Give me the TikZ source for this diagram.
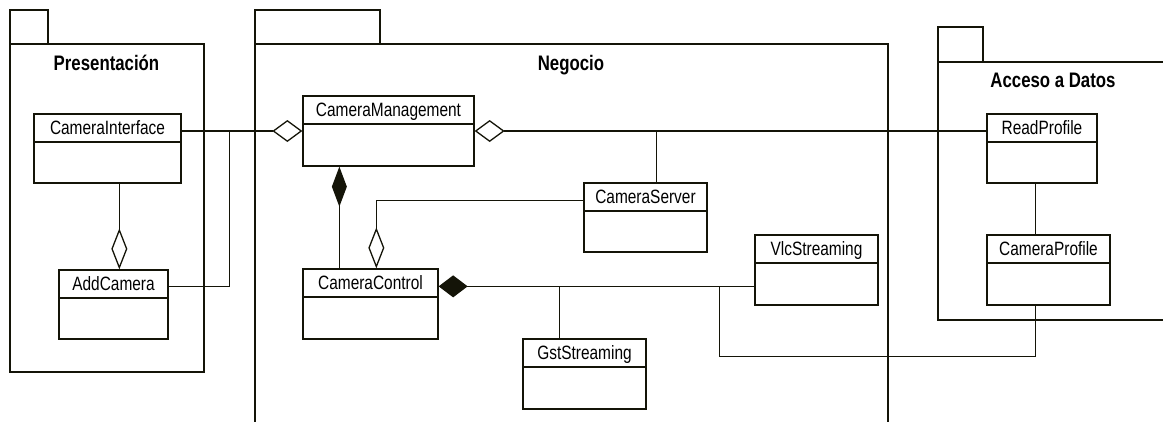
\documentclass[tikz,border=0pt]{standalone}
\usepackage{fontspec}
\setmainfont{Liberation Sans}[FakeStretch=0.8]
\usetikzlibrary{arrows.meta,calc}

\definecolor{ink}{HTML}{141408}

\tikzset{
  pkg/.style={draw=ink, line width=1.4pt},
  pkgtitle/.style={font=\fontsize{21}{24}\selectfont\bfseries, inner sep=0pt,
                   text height=15pt, text depth=0pt},
  classbox/.style={draw=ink, line width=1.3pt, fill=white, inner sep=0pt},
  classhead/.style={draw=ink, line width=1.3pt, inner sep=0pt, anchor=north,
                    minimum height=28pt, font=\fontsize{19.3}{22}\selectfont,
                    text height=13.8pt, text depth=0pt},
  link/.style={draw=ink, line width=1.3pt},
  aggrH/.style={link, -{Diamond[open, length=30pt, width=22pt, line width=1.3pt]}},
  aggrV/.style={link, -{Diamond[open, length=41pt, width=16pt, line width=1.3pt]}},
  compH/.style={link, -{Diamond[length=29pt, width=22pt]}},
  compV/.style={link, -{Diamond[length=40pt, width=15pt]}},
}

% UML class: name, x1, y1, x2, y2, title
\newcommand{\umlclass}[6]{%
  \node[classbox, minimum width={#4-#2}, minimum height={#5-#3}] (#1)
       at ({(#2+#4)/2},{(#3+#5)/2}) {};
  \node[classhead, minimum width={#4-#2}] (#1-head) at (#1.north) {#6};
}

\begin{document}
\begin{tikzpicture}[x=1pt, y=-1pt]
\useasboundingbox (0,0) rectangle (1163,421);
\begin{scope}
\clip (0,0) rectangle (1163,421);

% packages
\draw[pkg] (10,10) rectangle (48,44);
\draw[pkg] (10,44) rectangle (204,372);
\node[pkgtitle] (tPres) at (106.5,62.5) {Presentación};

\draw[pkg] (255,10) rectangle (380,44);
\draw[pkg] (255,44) rectangle (888,440);
\node[pkgtitle] (tNeg) at (571,63) {Negocio};

\draw[pkg] (938,27) rectangle (983,62);
\draw[pkg] (938,62) rectangle (1180,320);
\node[pkgtitle] (tDat) at (1053,79.5) {Acceso a Datos};

% classes
\umlclass{ci}{34}{114}{181}{183}{CameraInterface}
\umlclass{ac}{59}{270}{168}{339}{AddCamera}
\umlclass{cm}{303}{96}{474}{166}{CameraManagement}
\umlclass{cs}{584}{183}{707}{252}{CameraServer}
\umlclass{cc}{303}{269}{438}{339}{CameraControl}
\umlclass{gst}{523}{339}{646}{409}{GstStreaming}
\umlclass{vlc}{755}{235}{878}{305}{VlcStreaming}
\umlclass{rp}{987}{114}{1097}{183}{ReadProfile}
\umlclass{cp}{987}{235}{1110}{305}{CameraProfile}

% connector helpers
\coordinate (jA)   at ($(ci.east |- cm.west)+(48,0)$);
\coordinate (csT)  at ($(cs.north west)+(73,0)$);
\coordinate (ccR)  at ($(cc.north east)+(0,18)$);
\coordinate (gstT) at ($(gst.north west)+(37,0)$);
\coordinate (jV)   at ($(ccR)+(281,0)$);
\coordinate (cpB)  at ($(cp.south west)+(49,0)$);

% presentation layer
\draw[aggrH] (ci.east |- cm.west) -- (cm.west);
\draw[link] ($(ac.north east)+(0,17)$) -| (jA);
\draw[aggrV] ($(ci.south west)+(86,0)$) -- ($(ac.north west)+(61,0)$);

% business layer
\draw[aggrH] (cm.east -| rp.west) -- (cm.east);
\draw[link] (csT) -- (csT |- cm.east);
\draw[compV] ($(cc.north west)+(37,0)$) -- ($(cm.south west)+(37,0)$);
\draw[aggrV] ($(cs.north west)+(0,18)$) -| ($(cc.north west)+(74,0)$);
\draw[compH] (vlc.west |- ccR) -- (ccR);
\draw[link] (gstT) -- (gstT |- ccR);
\draw[link] (jV) |- ($(cpB)+(0,51)$) -- (cpB);

% data layer
\draw[link] (rp.south -| cpB) -- (cp.north -| cpB);

\end{scope}
\end{tikzpicture}
\end{document}
